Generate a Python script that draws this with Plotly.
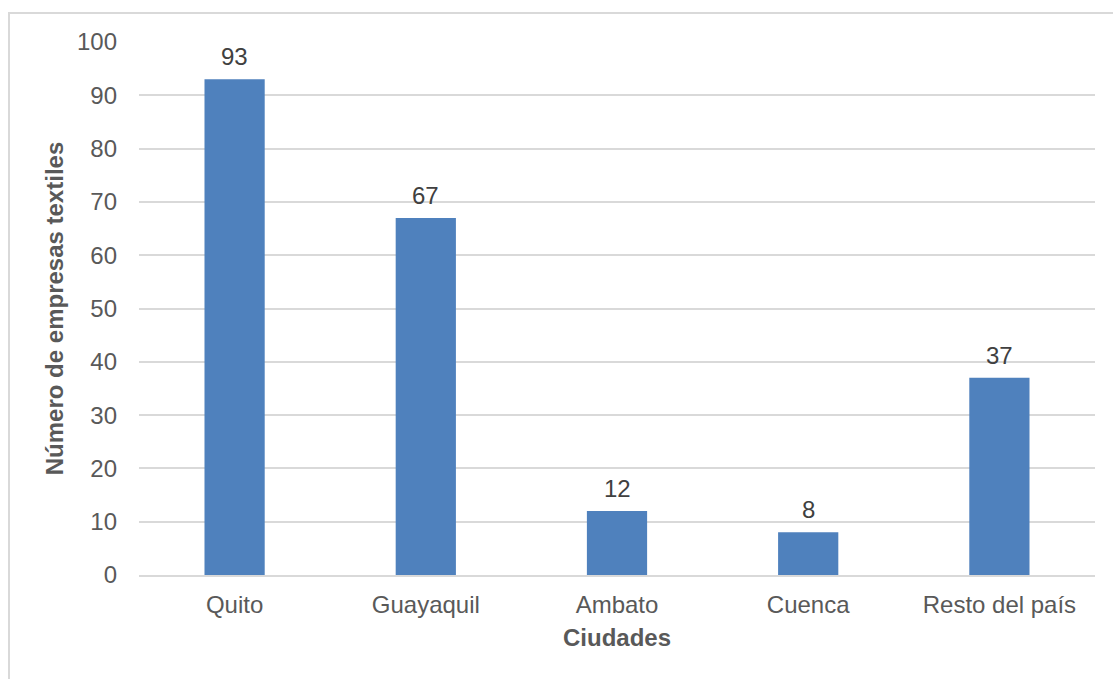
import plotly.graph_objects as go

categories = ["Quito", "Guayaquil", "Ambato", "Cuenca", "Resto del país"]
values = [93, 67, 12, 8, 37]

W, H = 1113, 679
L, R, T, B = 139, 18, 42, 104
pw, ph = W - L - R, H - T - B

FAM = "Liberation Sans, Arial"
fig = go.Figure(go.Bar(
    x=categories, y=values, width=0.315,
    marker=dict(color="#4F81BD", line=dict(width=0)),
))

for c, v in zip(categories, values):
    fig.add_annotation(x=c, y=v, text=str(v), showarrow=False, yanchor="bottom",
                       yshift=7, font=dict(family=FAM, size=24, color="#404040"))

font = dict(family=FAM, size=24, color="#595959")
fig.update_layout(
    width=W, height=H, margin=dict(l=L, r=R, t=T, b=B),
    paper_bgcolor="white", plot_bgcolor="white",
    showlegend=False, font=font,
    xaxis=dict(showgrid=False, showline=True, linecolor="#d9d9d9", linewidth=2,
               ticks="", tickfont=font, ticklabelstandoff=7,
               title=dict(text="<b>Ciudades</b>", font=font, standoff=12)),
    yaxis=dict(range=[0, 100], dtick=10, showgrid=True, gridcolor="#d9d9d9", gridwidth=2,
               zeroline=False, showline=False, ticks="", ticklabelstandoff=21,
               tickfont=font,
               title=dict(text="<b>Número de empresas textiles</b>", font=font, standoff=6)),
    shapes=[dict(type="rect", xref="paper", yref="paper",
                 x0=(9 - L) / pw, x1=(W + 20 - L) / pw,
                 y0=-(H + 20 - T - ph) / ph, y1=1 + (T - 13) / ph,
                 line=dict(color="#d9d9d9", width=2), fillcolor="rgba(0,0,0,0)", layer="below")],
)

fig.write_html("out.html")
